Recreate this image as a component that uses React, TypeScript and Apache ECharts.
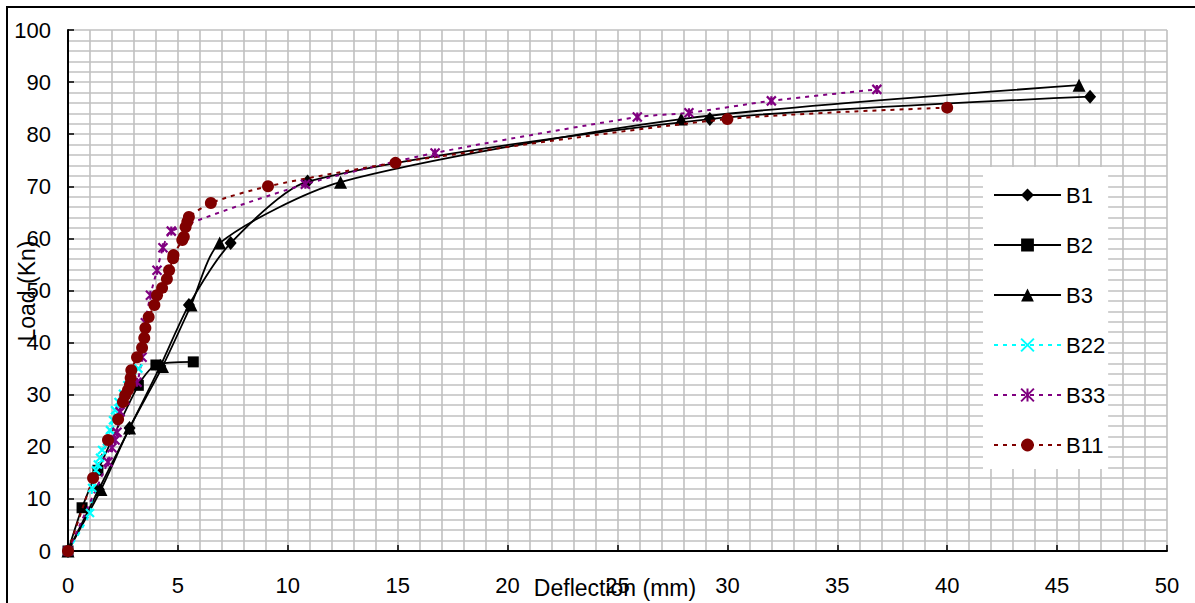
import React, { useEffect, useRef } from "react";
import * as echarts from "echarts";

const seriesNames = ["B1", "B2", "B3", "B22", "B33", "B11"];

const b1X = [0, 1.4, 2.8, 4.2, 5.5, 7.4, 10.9, 29.2, 46.5];
const b1Y = [0, 11.8, 23.6, 35.5, 47.2, 59.1, 70.9, 82.9, 87.2];

const b2X = [0, 0.64, 1.36, 3.2, 4.0, 5.7];
const b2Y = [0, 8.3, 15.5, 31.8, 35.7, 36.3];

const b3X = [0, 1.5, 2.8, 4.3, 5.6, 6.9, 12.4, 27.9, 46.0];
const b3Y = [0, 11.8, 23.6, 35.4, 47.2, 59.1, 70.8, 82.9, 89.4];

const b22X = [0, 1.0, 1.1, 1.27, 1.36, 1.46, 1.55, 1.77, 1.91, 2.05, 2.14, 2.3, 2.5, 2.7, 2.9, 3.2];
const b22Y = [0, 7.3, 12.1, 15.5, 16.6, 17.9, 19.4, 21.0, 23.2, 25.1, 27.0, 28.6, 30.2, 31.8, 33.3, 35.0];

const b33X = [0, 1.82, 2.0, 2.14, 2.23, 2.37, 2.6, 3.14, 3.37, 3.52, 3.75, 4.05, 4.32, 4.7, 10.8, 16.7, 25.9, 28.25, 32.0, 36.8];
const b33Y = [0, 17.1, 19.8, 21.3, 22.8, 26.7, 29.0, 32.4, 37.2, 43.8, 49.1, 53.9, 58.2, 61.4, 70.4, 76.4, 83.3, 84.1, 86.4, 88.6];

const b11X = [0, 1.14, 1.82, 2.28, 2.5, 2.6, 2.73, 2.82, 2.85, 2.88, 3.14, 3.37, 3.47, 3.52, 3.67, 3.93, 4.05, 4.28, 4.5, 4.6, 4.78, 4.8, 5.2, 5.27, 5.35, 5.43, 5.5, 6.5, 9.1, 14.9, 30.0, 40.0];
const b11Y = [0, 14.0, 21.3, 25.3, 28.6, 29.9, 30.9, 31.9, 33.2, 34.7, 37.2, 39.0, 40.9, 42.8, 44.9, 47.2, 49.1, 50.5, 52.2, 53.9, 56.2, 56.8, 59.7, 60.3, 62.2, 63.2, 64.1, 66.8, 70.0, 74.5, 82.9, 85.1];

const xTicks = { min: 0, max: 50, interval: 5 };
const yTicks = { min: 0, max: 100, interval: 10 };

const FONT = 'Arial, "Liberation Sans", sans-serif';
const xPath = "path://M0,0L10,10M10,0L0,10";
const starPath = "path://M0,0L10,10M10,0L0,10M5,0L5,10";

const zip = (xs: number[], ys: number[]) => xs.map((x, i) => [x, ys[i]]);

export default function App() {
  const ref = useRef<HTMLDivElement>(null);
  useEffect(() => {
    if (!ref.current) return;
    const chart = echarts.init(ref.current, null, { renderer: "svg" });
    const solid = (name: string, xs: number[], ys: number[], symbol: string, size: any) => ({
      name,
      type: "line",
      data: zip(xs, ys),
      smooth: 0.25,
      symbol,
      symbolSize: size,
      showSymbol: true,
      lineStyle: { color: "#000", width: 1.8 },
      itemStyle: { color: "#000" },
      z: 3,
    });
    const dashed = (name: string, xs: number[], ys: number[], symbol: string, size: any, color: string, stroke: boolean) => ({
      name,
      type: "line",
      data: zip(xs, ys),
      smooth: 0.25,
      symbol,
      symbolSize: size,
      lineStyle: { color, width: 2, type: [4, 5] },
      itemStyle: stroke ? { color, borderColor: color, borderWidth: 2.2 } : { color },
      z: 4,
    });
    const gridLine = { show: true, lineStyle: { color: "#c0c0c0", width: 1.6 } };
    chart.setOption({
      animation: false,
      backgroundColor: "#fff",
      grid: { left: 68, top: 30, right: 28, bottom: 52, containLabel: false },
      xAxis: {
        type: "value",
        ...xTicks,
        axisLine: { show: true, onZero: false, lineStyle: { color: "#000", width: 2 } },
        axisTick: { show: true, inside: true, length: 6, lineStyle: { color: "#000", width: 1.5 } },
        axisLabel: { fontSize: 22, color: "#000", fontFamily: FONT, margin: 23 },
        splitLine: gridLine,
        minorTick: { show: false, splitNumber: 5 },
        minorSplitLine: gridLine,
      },
      yAxis: {
        type: "value",
        ...yTicks,
        axisLine: { show: true, onZero: false, lineStyle: { color: "#000", width: 2 } },
        axisTick: { show: true, inside: true, length: 6, lineStyle: { color: "#000", width: 1.5 } },
        axisLabel: { fontSize: 22, color: "#000", fontFamily: FONT, margin: 17 },
        splitLine: gridLine,
        minorTick: { show: false, splitNumber: 5 },
        minorSplitLine: gridLine,
      },
      legend: {
        orient: "vertical",
        left: 983,
        top: 167,
        data: seriesNames,
        backgroundColor: "#fff",
        padding: [17, 3, 13, 10],
        itemWidth: 67,
        itemHeight: 16,
        itemGap: 28,
        textStyle: { fontSize: 22, color: "#000", fontFamily: FONT, lineHeight: 22 },
      },
      graphic: [
        {
          type: "rect",
          shape: { x: 7, y: 7, width: 1300, height: 700 },
          style: { fill: "none", stroke: "#000", lineWidth: 2 },
          silent: true,
        },
        {
          type: "text",
          x: 615,
          y: 588,
          z: 100,
          style: { text: "Deflection (mm)", fontSize: 23, fontFamily: FONT, fill: "#000", textAlign: "center", textVerticalAlign: "middle" },
        },
        {
          type: "text",
          x: 27,
          y: 291,
          rotation: Math.PI / 2,
          z: 100,
          style: { text: "Load (Kn)", fontSize: 23, fontFamily: FONT, fill: "#000", textAlign: "center", textVerticalAlign: "middle" },
        },
      ],
      series: [
        solid("B1", b1X, b1Y, "diamond", [12, 14]),
        solid("B2", b2X, b2Y, "rect", 11),
        solid("B3", b3X, b3Y, "triangle", 13),
        dashed("B22", b22X, b22Y, xPath, 8, "#00ffff", true),
        dashed("B33", b33X, b33Y, starPath, 9, "#800080", true),
        dashed("B11", b11X, b11Y, "circle", 12, "#800000", false),
      ],
    });
    return () => chart.dispose();
  }, []);
  return <div ref={ref} style={{ position: "absolute", left: 0, top: 0, width: 1195, height: 603 }} />;
}
